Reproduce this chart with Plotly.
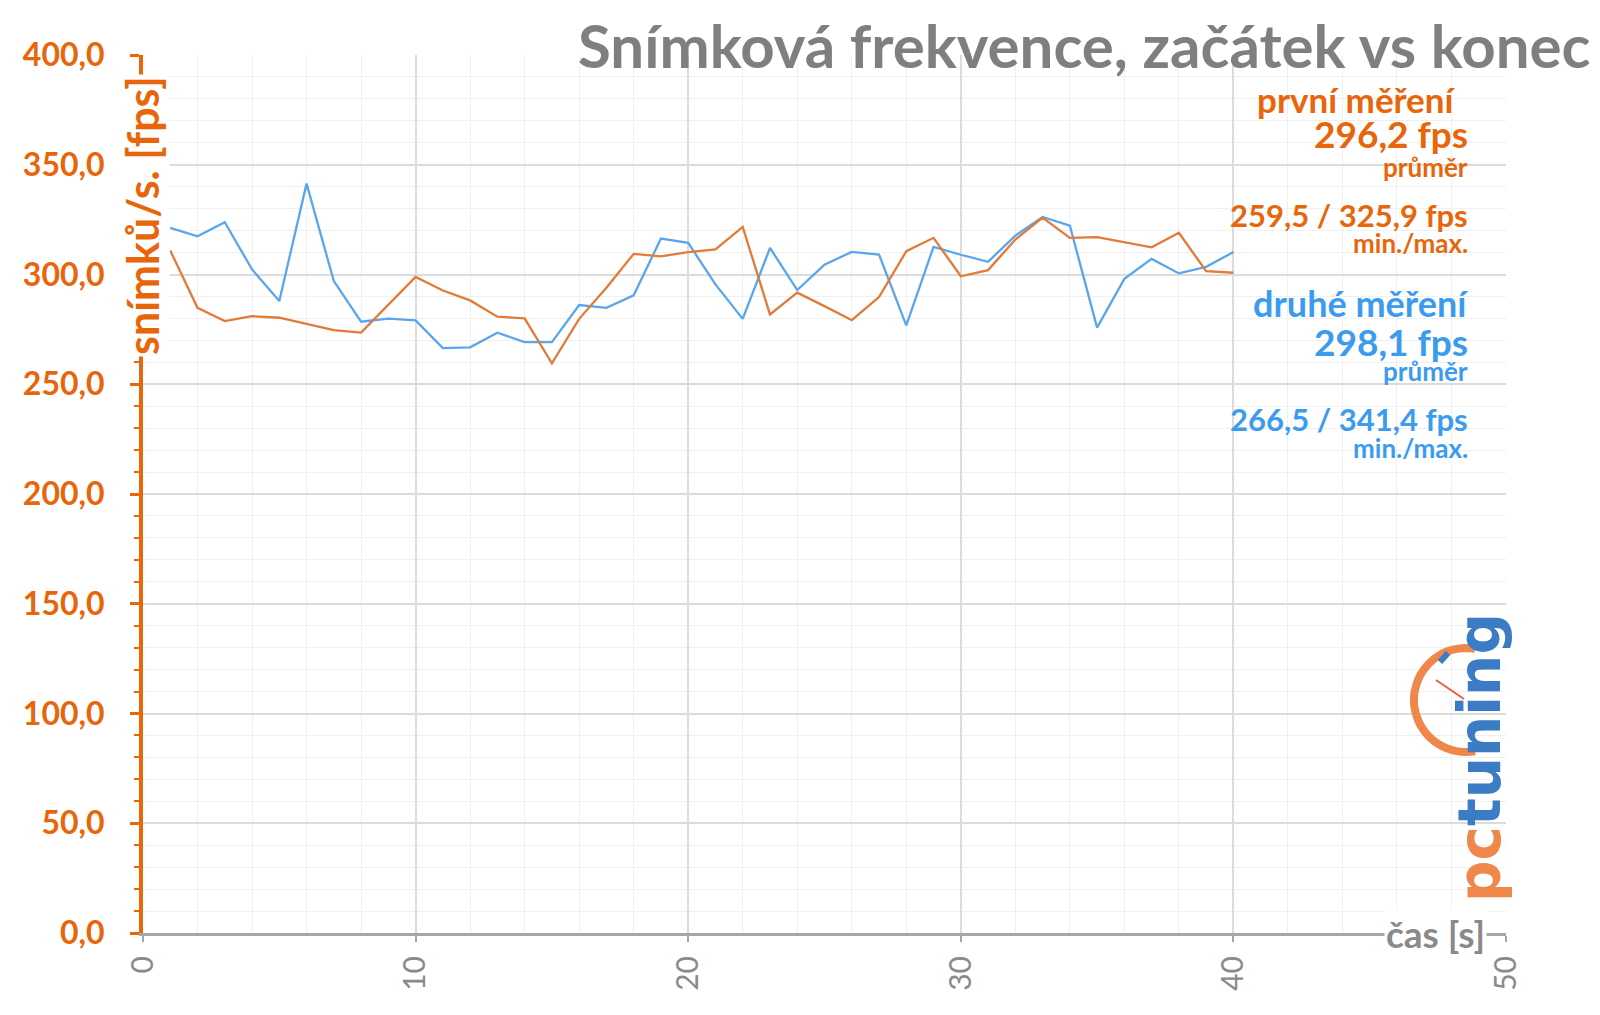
import numpy as np
import plotly.graph_objects as go

# ---------------- data ----------------
seconds = list(range(1, 41))
first_fps = [310.9, 284.8, 278.8, 281.0, 280.3, 277.6, 274.7, 273.5, 286.0, 298.9,
             292.7, 288.2, 280.8, 280.0, 259.5, 279.8, 294.0, 309.4, 308.3, 310.2,
             311.4, 321.7, 281.8, 291.7, 285.6, 279.2, 289.7, 310.6, 316.7, 299.2,
             302.0, 315.9, 325.9, 316.7, 317.0, 314.7, 312.4, 319.0, 301.5, 300.8]
second_fps = [321.2, 317.4, 323.8, 302.3, 287.9, 341.4, 297.0, 278.5, 279.9, 279.1,
              266.5, 266.8, 273.5, 269.2, 269.2, 286.1, 284.8, 290.5, 316.4, 314.4,
              295.5, 279.8, 312.1, 292.9, 304.5, 310.3, 309.1, 276.8, 312.6, 309.0,
              305.8, 317.7, 326.2, 322.3, 275.8, 298.0, 307.1, 300.5, 303.5, 310.2]
y_tick_vals = [0, 50, 100, 150, 200, 250, 300, 350, 400]
y_tick_text = ["0,0", "50,0", "100,0", "150,0", "200,0", "250,0", "300,0", "350,0", "400,0"]
x_tick_vals = [0, 10, 20, 30, 40, 50]

title_text = "Snímková frekvence, začátek vs konec"
y_title = "snímků/s. [fps]"
x_title = "čas [s]"

# ---------------- style ----------------
ORANGE_TXT = "#E8650A"
ORANGE_LINE = "#E27A38"
BLUE_TXT = "#3B9BEF"
BLUE_LINE = "#5AA6EC"
GRAY = "#8A8A8A"
FONT = "Lato, Open Sans, sans-serif"

W, H = 1600, 1015
L, R, T, B = 143, 1506, 55, 933


def px(x):
    return (x - L) / (R - L)


def py(y):
    return (B - y) / (B - T)


fig = go.Figure()
fig.add_trace(go.Scatter(x=seconds, y=second_fps, mode="lines",
                         line=dict(color=BLUE_LINE, width=2.3), name="druhé měření"))
fig.add_trace(go.Scatter(x=seconds, y=first_fps, mode="lines",
                         line=dict(color=ORANGE_LINE, width=2.3), name="první měření"))

annotations = []


def ann(text, x, y, size, color, xanchor="right", bold=True, **kw):
    annotations.append(dict(
        text=("<b>%s</b>" % text) if bold else text,
        x=px(x), y=py(y), xref="paper", yref="paper",
        xanchor=xanchor, yanchor="middle", showarrow=False,
        font=dict(family=FONT, size=size, color=color), **kw))


# title
ann(title_text, 1592, 45, 60, "#7F7F7F")
# right side stats
ann("první měření", 1458, 99, 35, ORANGE_TXT)
ann("296,2 fps", 1470, 134, 37, ORANGE_TXT)
ann("průměr", 1470, 167, 26, ORANGE_TXT)
ann("259,5 / 325,9 fps", 1470, 215, 31, ORANGE_TXT)
ann("min./max.", 1470, 243, 26, ORANGE_TXT)
ann("druhé měření", 1470, 303, 36, BLUE_TXT)
ann("298,1 fps", 1470, 341, 37, BLUE_TXT)
ann("průměr", 1470, 371, 26, BLUE_TXT)
ann("266,5 / 341,4 fps", 1470, 419, 31, BLUE_TXT)
ann("min./max.", 1470, 448, 26, BLUE_TXT)
# axis titles
annotations.append(dict(
    text="<b>%s</b>" % y_title, x=px(143), y=py(216), xref="paper", yref="paper",
    xanchor="center", yanchor="middle", showarrow=False, textangle=-90,
    bgcolor="white", font=dict(family=FONT, size=43, color=ORANGE_TXT)))
annotations.append(dict(
    text="<b>%s</b>" % x_title, x=px(1487), y=py(933), xref="paper", yref="paper",
    xanchor="right", yanchor="middle", showarrow=False,
    bgcolor="white", font=dict(family=FONT, size=37, color=GRAY)))
# logo text
annotations.append(dict(
    text="<b><span style='color:#F0874A'>pc</span><span style='color:#3B7CC4'>tuning</span></b>",
    x=px(1480), y=py(758), xref="paper", yref="paper", xanchor="center", yanchor="middle",
    showarrow=False, textangle=-90,
    font=dict(family="DejaVu Sans, sans-serif", size=58)))

# logo gauge arc (decoration)
cx, cy, rr = 1466, 700, 52
ang = np.linspace(np.deg2rad(-80), np.deg2rad(-280), 40)
pts = [(cx + rr * np.cos(a), cy + rr * np.sin(a)) for a in ang]
path = "M " + " L ".join("%.4f,%.4f" % (px(x), py(y)) for x, y in pts)
shapes = [
    dict(type="path", path=path, xref="paper", yref="paper",
         line=dict(color="#F0874A", width=8)),
    dict(type="line", xref="paper", yref="paper", x0=px(cx - 2), y0=py(cy - 1),
         x1=px(cx - 30), y1=py(cy - 20), line=dict(color="#E8603A", width=2)),
    dict(type="line", xref="paper", yref="paper", x0=px(1440), y0=py(662),
         x1=px(1448), y1=py(653), line=dict(color="#3B7CC4", width=6)),
]

fig.update_layout(
    width=W, height=H, autosize=False,
    margin=dict(l=L, r=W - R, t=T, b=H - B, pad=0),
    paper_bgcolor="white", plot_bgcolor="white",
    showlegend=False,
    annotations=annotations, shapes=shapes,
    xaxis=dict(
        range=[0, 50], tickvals=x_tick_vals, tickangle=-90,
        tickfont=dict(family=FONT, size=30, color=GRAY),
        showline=True, linecolor="#A6A6A6", linewidth=3,
        ticks="outside", ticklen=6, tickwidth=2, tickcolor="#A6A6A6",
        ticklabelstandoff=2,
        showgrid=True, gridcolor="#DCDCDC", gridwidth=2, zeroline=False,
        minor=dict(dtick=2, showgrid=True, gridcolor="#F0F0F0", gridwidth=1, ticks=""),
    ),
    yaxis=dict(
        range=[0, 400], tickvals=y_tick_vals, ticktext=y_tick_text,
        tickfont=dict(family=FONT, size=32, color=ORANGE_TXT, weight="bold"),
        showline=True, linecolor=ORANGE_TXT, linewidth=4,
        ticks="outside", ticklen=9, tickwidth=3, tickcolor=ORANGE_TXT,
        ticklabelstandoff=19,
        showgrid=True, gridcolor="#DCDCDC", gridwidth=2, zeroline=False,
        minor=dict(dtick=10, showgrid=True, gridcolor="#F0F0F0", gridwidth=1,
                   ticks="outside", ticklen=5, tickwidth=2, tickcolor=ORANGE_TXT),
    ),
)

fig.write_html("out.html")
